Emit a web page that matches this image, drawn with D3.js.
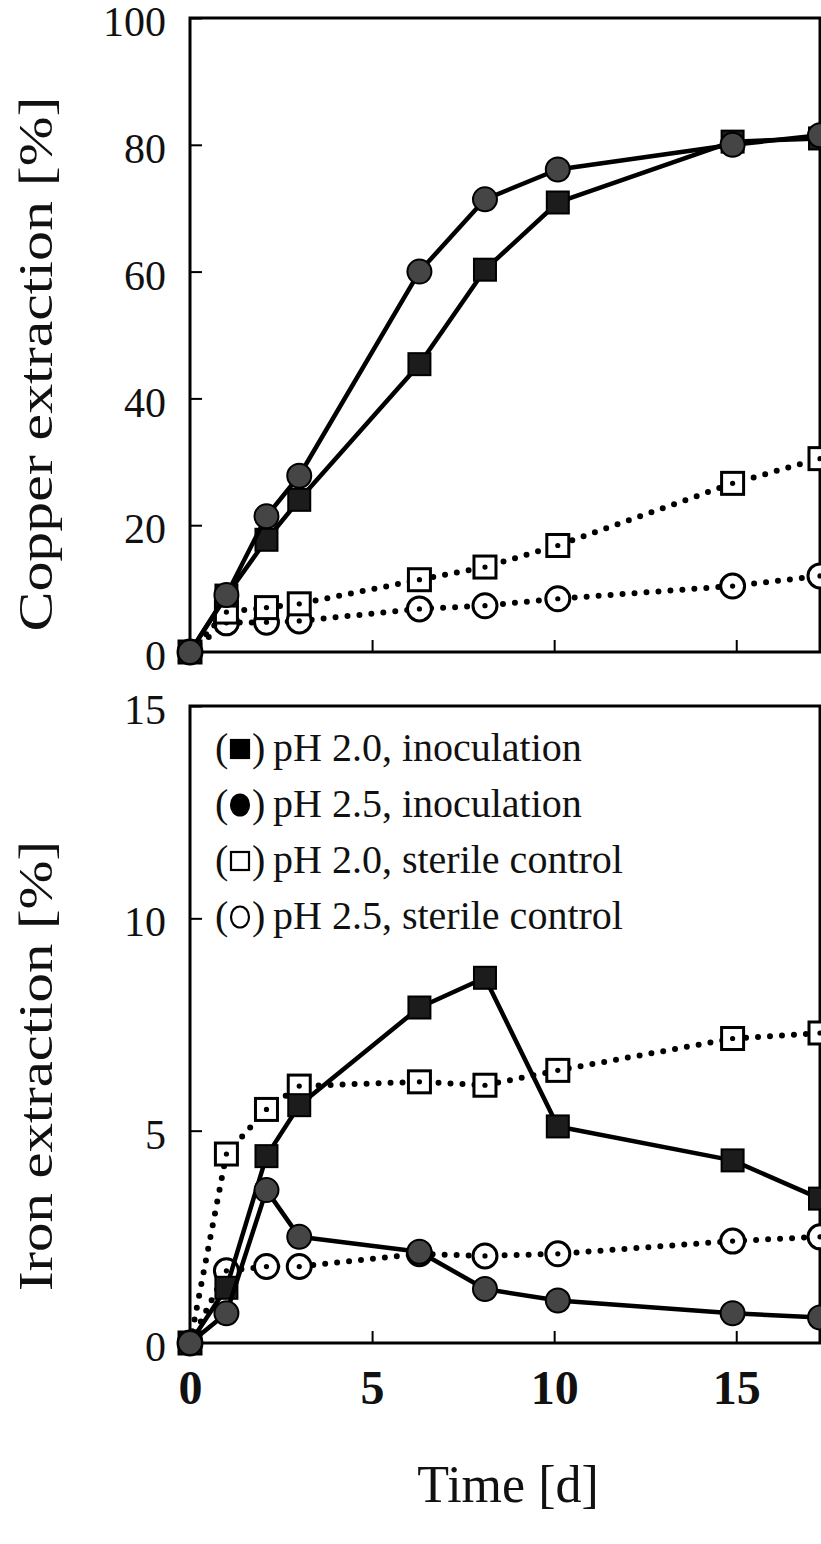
<!DOCTYPE html>
<html>
<head>
<meta charset="utf-8">
<script src="https://cdn.jsdelivr.net/npm/d3@7"></script>
<style>
  html, body { margin: 0; padding: 0; background: #fff; }
  svg { display: block; }
  text { font-family: "Liberation Serif", "Times New Roman", serif; fill: #111; }
</style>
</head>
<body>
<svg id="chart" width="821" height="1544"></svg>
<script>
// Sampling days (d)
const days = [0, 1, 2.1, 3, 6.3, 8.1, 10.1, 14.9, 17.3];

// Copper extraction [%]
const cuPH20Inoc    = [0, 8.9, 17.7, 24.0, 45.4, 60.3, 70.9, 80.5, 81.0];
const cuPH25Inoc    = [0, 9.0, 21.4, 27.8, 60.0, 71.4, 76.1, 80.0, 81.5];
const cuPH20Sterile = [0, 6.3, 7.0, 7.6, 11.4, 13.4, 16.8, 26.6, 30.5];
const cuPH25Sterile = [0, 4.6, 4.7, 4.9, 6.8, 7.3, 8.4, 10.4, 12.0];

// Iron extraction [%]
const fePH20Inoc    = [0, 1.3, 4.4, 5.6, 7.9, 8.6, 5.1, 4.3, 3.4];
const fePH25Inoc    = [0, 0.7, 3.6, 2.5, 2.15, 1.27, 1.0, 0.7, 0.6];
const fePH20Sterile = [0, 4.45, 5.5, 6.05, 6.15, 6.07, 6.42, 7.17, 7.3];
const fePH25Sterile = [0, 1.7, 1.8, 1.8, 2.1, 2.05, 2.1, 2.4, 2.5];

// Axis ticks and labels
const xTicks = [5, 10, 15];
const xTickLabels = [0, 5, 10, 15];
const cuTicks = [0, 20, 40, 60, 80, 100];
const feTicks = [0, 5, 10, 15];

const legendLabels = [
  "pH 2.0, inoculation",
  "pH 2.5, inoculation",
  "pH 2.0, sterile control",
  "pH 2.5, sterile control"
];

const svg = d3.select("#chart");

const left = 190, right = 820;
const x = d3.scaleLinear().domain([0, 17.3]).range([left, right]);

const panels = [
  {
    top: 18, bottom: 652, max: 100, ticks: cuTicks,
    title: "Copper extraction [%]", titleY: 364, titleLen: 535,
    series: [cuPH25Sterile, cuPH20Sterile, cuPH20Inoc, cuPH25Inoc]
  },
  {
    top: 706, bottom: 1343, max: 15, ticks: feTicks,
    title: "Iron extraction [%]", titleY: 1066, titleLen: 450,
    series: [fePH25Sterile, fePH20Sterile, fePH20Inoc, fePH25Inoc]
  }
];

// marker type per series slot: open circle, open square, filled square, filled circle
const styles = [
  { shape: "circle", filled: false },
  { shape: "square", filled: false },
  { shape: "square", filled: true },
  { shape: "circle", filled: true }
];

function drawMarker(g, shape, filled, cx, cy) {
  const fill = filled ? (shape === "square" ? "#1c1c1c" : "#454545") : "#fff";
  const sw = filled ? 2 : 3;
  if (shape === "square") {
    g.append("rect")
      .attr("x", cx - 11).attr("y", cy - 11)
      .attr("width", 22).attr("height", 22)
      .attr("fill", fill).attr("stroke", "#000").attr("stroke-width", sw);
  } else {
    g.append("circle")
      .attr("cx", cx).attr("cy", cy).attr("r", 12)
      .attr("fill", fill).attr("stroke", "#000").attr("stroke-width", sw);
  }
  if (!filled) {
    g.append("circle").attr("cx", cx).attr("cy", cy).attr("r", 2.6).attr("fill", "#000");
  }
}

panels.forEach((p, pi) => {
  const y = d3.scaleLinear().domain([0, p.max]).range([p.bottom, p.top]);
  const g = svg.append("g");

  // frame
  g.append("rect")
    .attr("x", left).attr("y", p.top)
    .attr("width", right - left).attr("height", p.bottom - p.top)
    .attr("fill", "none").attr("stroke", "#000").attr("stroke-width", 3);

  // y axis with inward ticks
  const yAxis = d3.axisLeft(y).tickValues(p.ticks).tickSize(-12).tickPadding(24)
    .tickFormat(d3.format("d"));
  const ya = g.append("g").attr("transform", `translate(${left},0)`).call(yAxis);
  ya.select(".domain").remove();
  ya.selectAll(".tick line").attr("stroke", "#000").attr("stroke-width", 2);
  ya.selectAll(".tick text")
    .attr("font-size", 42).attr("font-family", "Liberation Serif").attr("fill", "#111")
    .attr("dy", "0.42em");

  // x axis ticks (inward)
  const xAxis = d3.axisBottom(x).tickValues(xTicks).tickSize(-12).tickFormat("");
  const xa = g.append("g").attr("transform", `translate(0,${p.bottom})`).call(xAxis);
  xa.select(".domain").remove();
  xa.selectAll(".tick line").attr("stroke", "#000").attr("stroke-width", 2);

  // y title
  g.append("text")
    .attr("transform", `translate(52,${p.titleY}) rotate(-90)`)
    .attr("text-anchor", "middle")
    .attr("font-size", 48)
    .attr("textLength", p.titleLen).attr("lengthAdjust", "spacingAndGlyphs")
    .text(p.title);

  const plot = g.append("g");
  const line = d3.line().x((d, i) => x(days[i])).y(d => y(d));

  p.series.forEach((vals, si) => {
    const st = styles[si];
    const path = plot.append("path").datum(vals)
      .attr("d", line).attr("fill", "none").attr("stroke", "#000");
    if (st.filled) {
      path.attr("stroke-width", 4.5).attr("stroke-linejoin", "round");
    } else {
      path.attr("stroke-width", 6).attr("stroke-linecap", "round")
        .attr("stroke-dasharray", "0,12");
    }
    const mg = plot.append("g");
    vals.forEach((v, i) => drawMarker(mg, st.shape, st.filled, x(days[i]), y(v)));
  });

  // x tick labels below the lower panel
  if (pi === 1) {
    const xl = d3.axisBottom(x).tickValues(xTickLabels).tickSize(0).tickPadding(0)
      .tickFormat(d3.format("d"));
    const xla = svg.append("g").attr("transform", `translate(0,${p.bottom})`).call(xl);
    xla.select(".domain").remove();
    xla.selectAll(".tick text")
      .attr("y", 61).attr("dy", 0)
      .attr("font-size", 48).attr("font-weight", "bold")
      .attr("font-family", "Liberation Serif").attr("fill", "#111");
  }

  // legend in the lower panel
  if (pi === 1) {
    const lg = svg.append("g");
    const rowY = [749, 805, 861, 917];
    const legendStyles = [styles[2], styles[3], styles[1], styles[0]];
    legendLabels.forEach((lab, i) => {
      const ry = rowY[i];
      const row = lg.append("g");
      row.append("text").attr("x", 215).attr("y", ry + 12).attr("font-size", 40).text("(");
      row.append("text").attr("x", 252).attr("y", ry + 12).attr("font-size", 40).text(")");
      const s = legendStyles[i];
      if (s.shape === "square") {
        row.append("rect").attr("x", 231).attr("y", ry - 9).attr("width", 18).attr("height", 18)
          .attr("fill", s.filled ? "#000" : "#fff").attr("stroke", "#000").attr("stroke-width", 2.2);
      } else {
        row.append("ellipse").attr("cx", 240).attr("cy", ry).attr("rx", 9).attr("ry", 10.5)
          .attr("fill", s.filled ? "#000" : "#fff").attr("stroke", "#000").attr("stroke-width", 2.2);
      }
      row.append("text").attr("x", 273).attr("y", ry + 12).attr("font-size", 40).text(lab);
    });
  }
});

// shared x-axis title
svg.append("text")
  .attr("x", 508).attr("y", 1502)
  .attr("text-anchor", "middle")
  .attr("font-size", 52)
  .text("Time [d]");
</script>
</body>
</html>
